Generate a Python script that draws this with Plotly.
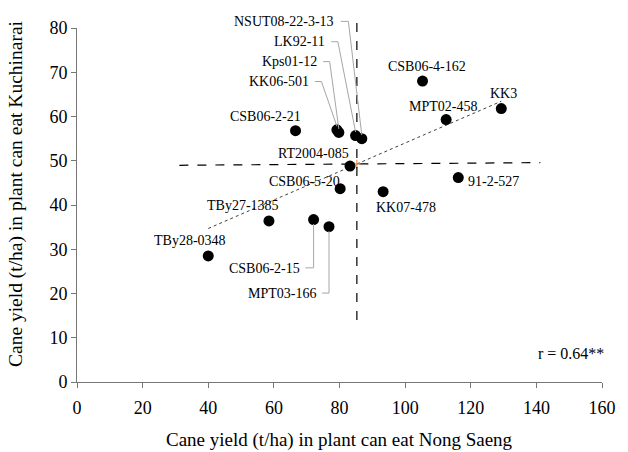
import numpy as np
import plotly.graph_objects as go

# ---- data ----
names = ["TBy28-0348", "TBy27-1385", "CSB06-2-15", "MPT03-166", "CSB06-2-21",
         "KK06-501", "Kps01-12", "LK92-11", "NSUT08-22-3-13", "RT2004-085",
         "CSB06-5-20", "KK07-478", "CSB06-4-162", "MPT02-458", "91-2-527", "KK3"]
nong_saeng = [40.0, 58.5, 72.1, 76.8, 66.6, 79.2, 79.8, 84.9, 86.8, 83.2,
              80.2, 93.3, 105.3, 112.5, 116.2, 129.3]
kuchinarai = [28.5, 36.4, 36.7, 35.1, 56.8, 57.0, 56.4, 55.7, 55.0, 48.8,
              43.7, 43.0, 68.0, 59.3, 46.2, 61.8]
x_ticks = [0, 20, 40, 60, 80, 100, 120, 140, 160]
y_ticks = [0, 10, 20, 30, 40, 50, 60, 70, 80]
r_text = "r = 0.64**"

X_RANGE = [0, 160]
Y_RANGE = [0, 80]

# ---- layout helpers (label placement, in data units) ----
label_pos = {
    "NSUT08-22-3-13": (63.2, 81.4), "LK92-11": (67.9, 76.9), "Kps01-12": (64.7, 72.4),
    "KK06-501": (61.5, 67.9), "CSB06-2-21": (57.5, 59.9), "RT2004-085": (72.1, 51.7),
    "CSB06-5-20": (69.4, 45.3), "CSB06-4-162": (106.8, 71.4), "KK3": (130.0, 65.2),
    "MPT02-458": (111.6, 62.2), "91-2-527": (126.8, 45.3), "KK07-478": (100.3, 39.5),
    "TBy27-1385": (50.7, 39.8), "TBy28-0348": (34.4, 31.9), "CSB06-2-15": (57.2, 25.7),
    "MPT03-166": (62.4, 20.0),
}
# leader lines: (elbow start x, elbow end x, label y)
leaders = {
    "NSUT08-22-3-13": (80.4, 82.7, 81.5), "LK92-11": (77.5, 79.5, 76.9),
    "Kps01-12": (75.0, 77.0, 72.4), "KK06-501": (72.5, 74.5, 67.9),
    "CSB06-2-15": (69.6, 72.1, 25.8), "MPT03-166": (74.7, 76.8, 20.1),
}

FONT = "Liberation Serif, Times New Roman, serif"
x = np.array(nong_saeng)
y = np.array(kuchinarai)


def ypaper(v):
    return (v - Y_RANGE[0]) / (Y_RANGE[1] - Y_RANGE[0])


fig = go.Figure()

# mean lines
mx, my = x.mean(), y.mean()
fig.add_shape(type="line", xref="x", yref="paper", x0=mx, x1=mx,
              y0=ypaper(14), y1=ypaper(83),
              line=dict(color="black", width=1.2, dash="dash"))
fig.add_trace(go.Scatter(x=[31.2, 141.2], y=[my - 0.3, my + 0.3], mode="lines",
                         line=dict(color="black", width=1.2, dash="dash"),
                         hoverinfo="skip", showlegend=False))

# regression line
b, a = np.polyfit(x, y, 1)
xs = np.array([x.min(), x.max()])
fig.add_trace(go.Scatter(x=xs, y=a + b * xs, mode="lines",
                         line=dict(color="#404040", width=1, dash="dot"),
                         hoverinfo="skip", showlegend=False))

# small mean marker
fig.add_trace(go.Scatter(x=[mx], y=[my], mode="markers",
                         marker=dict(symbol="cross-thin", size=6,
                                     line=dict(color="#e07b39", width=1)),
                         hoverinfo="skip", showlegend=False))

# leader lines
for i, n in enumerate(names):
    if n in leaders:
        x0, x1, ly = leaders[n]
        px, py = nong_saeng[i], kuchinarai[i]
        end_y = py + 0.8 if ly > py else py - 1.0
        fig.add_shape(type="path", xref="x", yref="paper",
                      path=f"M {x0},{ypaper(ly)} L {x1},{ypaper(ly)} L {px},{ypaper(end_y)}",
                      line=dict(color="#a6a6a6", width=1))

# points
fig.add_trace(go.Scatter(x=x, y=y, mode="markers",
                         marker=dict(color="black", size=11),
                         text=names, showlegend=False))

for n in names:
    lx, ly = label_pos[n]
    fig.add_annotation(x=lx, y=ypaper(ly), xref="x", yref="paper", text=n,
                       showarrow=False, xanchor="center", yanchor="middle",
                       font=dict(family=FONT, size=14, color="black"))

fig.add_annotation(x=150.7, y=6.5, xref="x", yref="y", text=r_text, showarrow=False,
                   font=dict(family=FONT, size=16, color="black"))

fig.add_annotation(x=0.5, y=0, xref="paper", yref="paper", yshift=-58,
                   xanchor="center", yanchor="middle",
                   text="Cane yield (t/ha) in plant can eat Nong Saeng", showarrow=False,
                   font=dict(family=FONT, size=19, color="black"))
fig.add_annotation(x=0, y=0.531, xref="paper", yref="paper", xshift=-61, textangle=-90,
                   xanchor="center", yanchor="middle",
                   text="Cane yield (t/ha) in plant can eat Kuchinarai", showarrow=False,
                   font=dict(family=FONT, size=19.5, color="black"))

axis_common = dict(showline=True, linecolor="#767676", linewidth=1, ticks="outside",
                   ticklen=5, tickcolor="#767676", showgrid=False, zeroline=False,
                   tickfont=dict(family=FONT, size=18, color="black"))
fig.update_xaxes(range=X_RANGE, tickvals=x_ticks, ticklabelstandoff=4, **axis_common)
fig.update_yaxes(range=Y_RANGE, tickvals=y_ticks, **axis_common)

fig.update_layout(width=628, height=452, margin=dict(l=77, r=15, t=28, b=70),
                  plot_bgcolor="white", paper_bgcolor="white", showlegend=False,
                  font=dict(family=FONT))

fig.write_html("out.html")
